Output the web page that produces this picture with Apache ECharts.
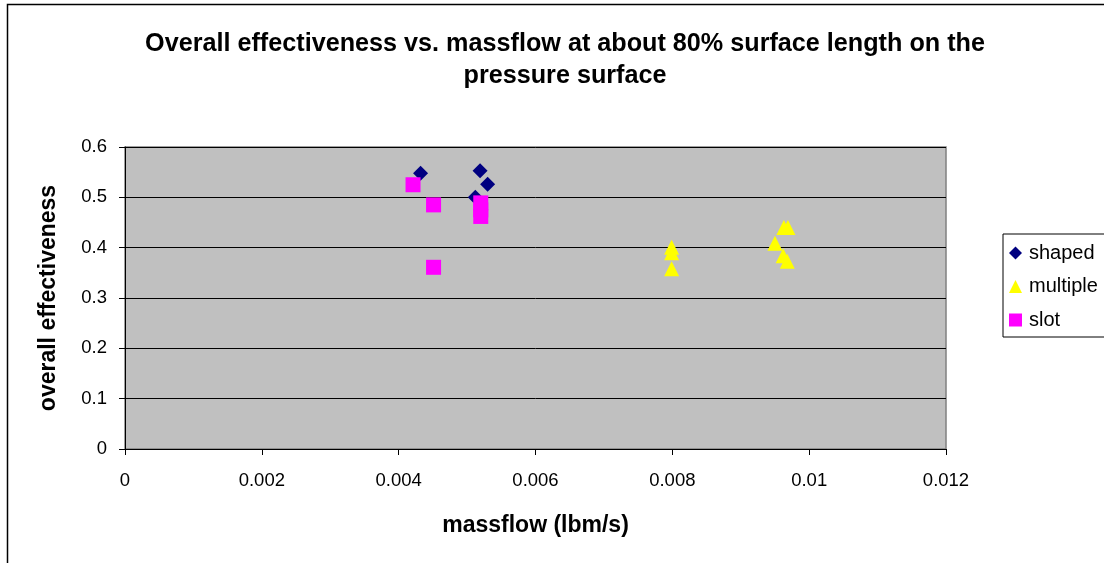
<!DOCTYPE html>
<html>
<head>
<meta charset="utf-8">
<script src="https://cdn.jsdelivr.net/npm/echarts@6/dist/echarts.min.js"></script>
<style>
html,body{margin:0;padding:0;background:#fff;}
#c{width:1104px;height:563px;}
</style>
</head>
<body>
<div id="c"></div>
<script>
// Data
const shapedX = [0.00432, 0.00519, 0.00530, 0.00512];
const shapedY = [0.548, 0.553, 0.526, 0.500];
const multipleX = [0.00799, 0.00799, 0.00799, 0.00963, 0.00969, 0.00950, 0.00962, 0.00968];
const multipleY = [0.401, 0.390, 0.358, 0.440, 0.440, 0.409, 0.384, 0.373];
const slotX = [0.00421, 0.00451, 0.00451, 0.00520, 0.00520, 0.00520];
const slotY = [0.525, 0.485, 0.361, 0.489, 0.475, 0.462];
const xTicks = [0, 0.002, 0.004, 0.006, 0.008, 0.01, 0.012];
const yTicks = [0, 0.1, 0.2, 0.3, 0.4, 0.5, 0.6];
const seriesNames = ['shaped', 'multiple', 'slot'];

const zip = (xs, ys) => xs.map((x, i) => [x, ys[i]]);
const FONT = '"Liberation Sans", Arial, sans-serif';

const chart = echarts.init(document.getElementById('c'), null, {renderer: 'canvas'});
chart.setOption({
  animation: false,
  backgroundColor: '#ffffff',
  textStyle: {fontFamily: FONT},
  title: {
    text: 'Overall effectiveness vs. massflow at about 80% surface length on the\npressure surface',
    left: 560, top: 23, textAlign: 'center',
    textStyle: {fontFamily: FONT, fontWeight: 'bold', fontSize: 25.2, color: '#000', lineHeight: 32}
  },
  graphic: [{
    type: 'rect', silent: true, z: -1,
    shape: {x: 7.5, y: 4.5, width: 1200, height: 700},
    style: {fill: null, stroke: '#000', lineWidth: 1.5}
  }],
  legend: {
    orient: 'vertical', left: 1003, top: 234,
    data: seriesNames,
    itemWidth: 13, itemHeight: 13, itemGap: 13.5,
    padding: [9, 40, 7, 6],
    borderColor: '#000', borderWidth: 1, backgroundColor: '#fff',
    textStyle: {fontFamily: FONT, fontSize: 20, lineHeight: 20, color: '#000', padding: [0, 0, 0, 2]}
  },
  grid: {
    left: 125, top: 147, width: 821, height: 302,
    show: true, backgroundColor: '#c0c0c0', borderColor: '#808080', borderWidth: 1.5
  },
  xAxis: {
    type: 'value', min: 0, max: 0.012, interval: 0.002,
    name: 'massflow (lbm/s)', nameLocation: 'middle', nameGap: 65,
    nameTextStyle: {fontFamily: FONT, fontWeight: 'bold', fontSize: 23, color: '#000'},
    axisLine: {show: true, onZero: false, lineStyle: {color: '#000', width: 1}},
    axisTick: {show: true, length: 6, inside: false, lineStyle: {color: '#000'}},
    axisLabel: {fontFamily: FONT, fontSize: 18.5, color: '#000', margin: 22,
      formatter: v => { const t = xTicks.find(k => Math.abs(k - v) < 1e-9); return t === undefined ? '' : String(t); }},
    splitLine: {show: false}
  },
  yAxis: {
    type: 'value', min: 0, max: 0.6, interval: 0.1,
    name: 'overall effectiveness', nameLocation: 'middle', nameGap: 65,
    nameTextStyle: {fontFamily: FONT, fontWeight: 'bold', fontSize: 23, color: '#000'},
    axisLine: {show: true, onZero: false, lineStyle: {color: '#000', width: 1}},
    axisTick: {show: true, length: 6, inside: false, lineStyle: {color: '#000'}},
    axisLabel: {fontFamily: FONT, fontSize: 18.5, color: '#000', margin: 18,
      formatter: v => { const t = yTicks.find(k => Math.abs(k - v) < 1e-9); return t === undefined ? '' : String(t); }},
    splitLine: {show: true, lineStyle: {color: '#000', width: 1}}
  },
  series: [
    {name: seriesNames[0], type: 'scatter', data: zip(shapedX, shapedY), symbol: 'diamond', symbolSize: 15,
      itemStyle: {color: '#000080', opacity: 1}},
    {name: seriesNames[1], type: 'scatter', data: zip(multipleX, multipleY), symbol: 'triangle', symbolSize: 15,
      itemStyle: {color: '#ffff00', opacity: 1}},
    {name: seriesNames[2], type: 'scatter', data: zip(slotX, slotY), symbol: 'rect', symbolSize: 15,
      itemStyle: {color: '#ff00ff', opacity: 1}}
  ]
});
</script>
</body>
</html>
